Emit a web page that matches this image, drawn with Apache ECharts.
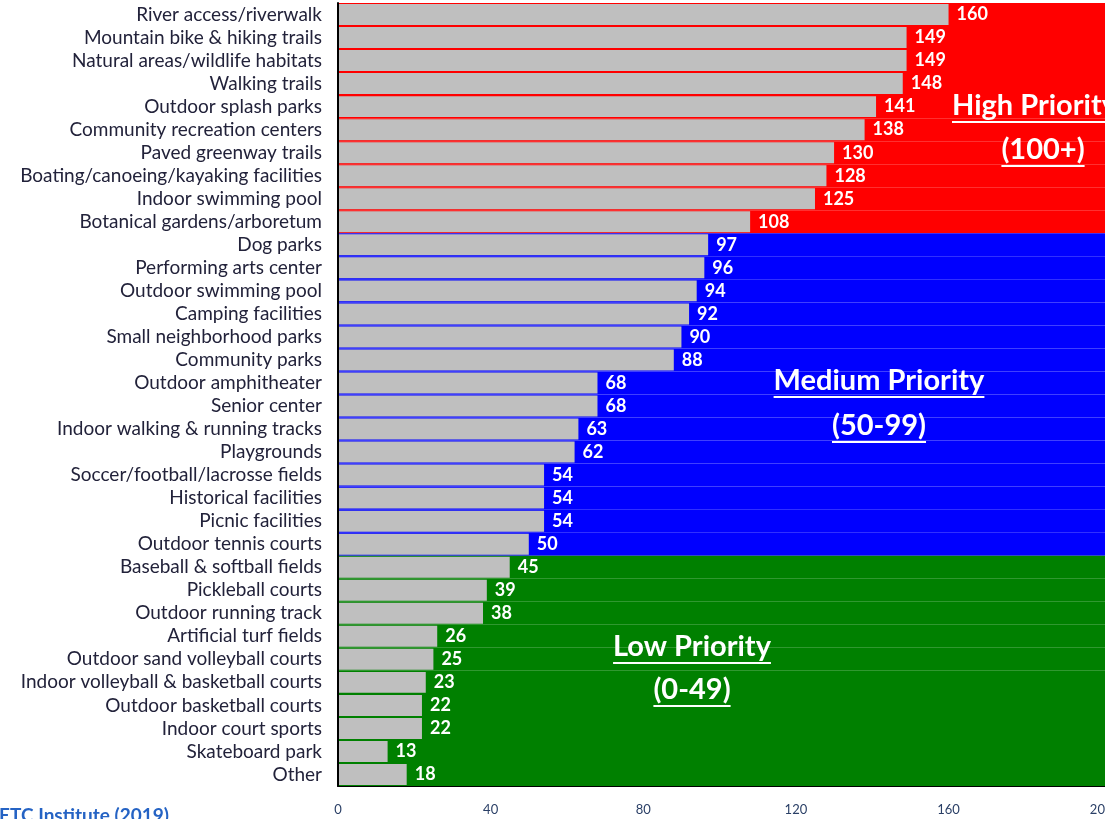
<!DOCTYPE html>
<html>
<head>
<meta charset="utf-8">
<script src="https://cdn.jsdelivr.net/npm/echarts@6/dist/echarts.min.js"></script>
<style>html,body{margin:0;padding:0;background:#fff;}#c{width:1105px;height:819px;}</style>
</head>
<body>
<div id="c"></div>
<script>
const categories = [
  "River access/riverwalk","Mountain bike & hiking trails","Natural areas/wildlife habitats","Walking trails",
  "Outdoor splash parks","Community recreation centers","Paved greenway trails","Boating/canoeing/kayaking facilities",
  "Indoor swimming pool","Botanical gardens/arboretum","Dog parks","Performing arts center","Outdoor swimming pool",
  "Camping facilities","Small neighborhood parks","Community parks","Outdoor amphitheater","Senior center",
  "Indoor walking & running tracks","Playgrounds","Soccer/football/lacrosse fields","Historical facilities",
  "Picnic facilities","Outdoor tennis courts","Baseball & softball fields","Pickleball courts","Outdoor running track",
  "Artificial turf fields","Outdoor sand volleyball courts","Indoor volleyball & basketball courts",
  "Outdoor basketball courts","Indoor court sports","Skateboard park","Other"
];
const values = [160,149,149,148,141,138,130,128,125,108,97,96,94,92,90,88,68,68,63,62,54,54,54,50,45,39,38,26,25,23,22,22,13,18];
const tickLabels = [0,40,80,120,160,200];
const axisMax = 201;
const bandTitles = [
  {line1:"High Priority", line2:"(100+)"},
  {line1:"Medium Priority", line2:"(50-99)"},
  {line1:"Low Priority", line2:"(0-49)"}
];

function bandColor(v){ return v >= 100 ? '#FF0000' : (v >= 50 ? '#0000FF' : '#008000'); }

const TF = 'Lato';
const mctx = document.createElement('canvas').getContext('2d');
function textW(t, size){ mctx.font = 'bold ' + size + 'px ' + TF; return mctx.measureText(t).width; }

function annot(text, x, y, align){
  const size = 29;
  const w = textW(text, size);
  const x0 = align === 'left' ? x : x - w/2;
  return [
    {type:'text', z:100, style:{text:text, x:x, y:y, align:align, verticalAlign:'middle',
      fontFamily:TF, fontWeight:'bold', fontSize:size, fill:'#fff'}},
    {type:'line', z:100, shape:{x1:x0, y1:y+16, x2:x0+w, y2:y+16}, style:{stroke:'#fff', lineWidth:2}}
  ];
}

const graphics = [].concat(
  annot(bandTitles[0].line1, 952, 106, 'left'),
  annot(bandTitles[0].line2, 1043, 150, 'center'),
  annot(bandTitles[1].line1, 879, 381, 'center'),
  annot(bandTitles[1].line2, 879, 426, 'center'),
  annot(bandTitles[2].line1, 692, 647, 'center'),
  annot(bandTitles[2].line2, 692, 690, 'center'),
  [{type:'text', z:100, style:{text:'Source: ETC Institute (2019)', x:169, y:806, align:'right', verticalAlign:'top',
    fontFamily:TF, fontWeight:'bold', fontSize:19, fill:'#2563C4'}}]
);

const chart = echarts.init(document.getElementById('c'), null, {renderer:'canvas'});
chart.setOption({
  animation:false,
  grid:{left:338, right:0, top:3, bottom:33, containLabel:false, outerBoundsMode:'none'},
  xAxis:{type:'value', min:0, max:axisMax,
    axisLine:{show:true, lineStyle:{color:'#000', width:2}}, axisTick:{show:false},
    splitLine:{show:false},
    axisLabel:{customValues:tickLabels, color:'#2A3F66', fontFamily:TF, fontSize:13, margin:17}},
  yAxis:[
    {type:'category', data:categories, inverse:true,
     axisLine:{show:true, lineStyle:{color:'#000', width:2}}, axisTick:{show:false},
     axisLabel:{interval:0, color:'#22223a', fontFamily:TF, fontSize:19, margin:16}, z:10},
    {type:'category', data:categories, inverse:true, show:false}
  ],
  graphic:graphics,
  series:[
    {type:'bar', yAxisIndex:1, barCategoryGap:0, barWidth:'100%', silent:true,
     data:values.map(v=>({value:axisMax, itemStyle:{color:bandColor(v)}})), z:1},
    {type:'bar', yAxisIndex:0, barCategoryGap:'9%', data:values,
     itemStyle:{color:'#BFBFBF'}, z:2,
     label:{show:true, position:'right', distance:8, color:'#fff', fontWeight:'bold', fontFamily:TF, fontSize:18}}
  ]
});
</script>
</body>
</html>
